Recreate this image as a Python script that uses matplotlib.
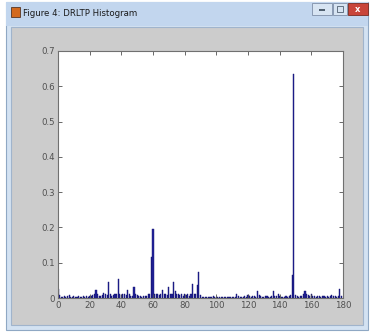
import numpy as np
import matplotlib
matplotlib.use('Agg')
import matplotlib.pyplot as plt
from matplotlib.patches import Rectangle

# Histogram values (one per bin, bins 0..179)
bins = np.arange(180)
hist_vals = [
    0.025, 0.008, 0.004, 0.003, 0.005, 0.004, 0.006, 0.008, 0.003, 0.004,
    0.005, 0.003, 0.004, 0.007, 0.004, 0.003, 0.005, 0.004, 0.006, 0.004,
    0.005, 0.006, 0.008, 0.010, 0.022, 0.012, 0.006, 0.005, 0.008, 0.015,
    0.012, 0.008, 0.045, 0.010, 0.006, 0.008, 0.012, 0.010, 0.055, 0.012,
    0.008, 0.010, 0.012, 0.008, 0.022, 0.010, 0.006, 0.005, 0.032, 0.012,
    0.008, 0.006, 0.005, 0.004, 0.006, 0.005, 0.006, 0.010, 0.012, 0.115,
    0.195, 0.012, 0.010, 0.012, 0.008, 0.010, 0.022, 0.012, 0.010, 0.008,
    0.030, 0.010, 0.012, 0.045, 0.020, 0.012, 0.010, 0.008, 0.010, 0.006,
    0.012, 0.008, 0.010, 0.006, 0.012, 0.040, 0.010, 0.012, 0.038, 0.075,
    0.008, 0.004, 0.003, 0.002, 0.004, 0.003, 0.002, 0.003, 0.006, 0.003,
    0.002, 0.003, 0.002, 0.004, 0.003, 0.002, 0.003, 0.002, 0.004, 0.003,
    0.003, 0.004, 0.003, 0.012, 0.006, 0.003, 0.004, 0.003, 0.006, 0.004,
    0.008, 0.005, 0.004, 0.006, 0.005, 0.004, 0.020, 0.008, 0.005, 0.004,
    0.004, 0.005, 0.006, 0.004, 0.003, 0.005, 0.020, 0.006, 0.005, 0.012,
    0.006, 0.004, 0.003, 0.004, 0.005, 0.004, 0.006, 0.008, 0.065, 0.635,
    0.008, 0.006, 0.004, 0.005, 0.006, 0.012, 0.020, 0.010, 0.008, 0.006,
    0.010, 0.006, 0.005, 0.004, 0.006, 0.005, 0.004, 0.005, 0.006, 0.004,
    0.005, 0.004, 0.006, 0.008, 0.006, 0.005, 0.004, 0.006, 0.025, 0.005,
]
xticks = [0, 20, 40, 60, 80, 100, 120, 140, 160, 180]
yticks = [0, 0.1, 0.2, 0.3, 0.4, 0.5, 0.6, 0.7]
ytick_labels = ['0', '0.1', '0.2', '0.3', '0.4', '0.5', '0.6', '0.7']
window_title = 'Figure 4: DRLTP Histogram'

W, H = 374, 334
fig = plt.figure(figsize=(W / 100, H / 100), dpi=100)
fig.patch.set_facecolor('white')


def px_rect(x, y, w, h, **kw):
    # rectangle in pixel coords measured from the top-left corner
    r = Rectangle((x / W, 1 - (y + h) / H), w / W, h / H,
                  transform=fig.transFigure, zorder=0, **kw)
    fig.add_artist(r)
    return r


# window frame and title bar
px_rect(6, 2, 362, 328, facecolor='#d3e2f2', edgecolor='#8fa8c4', lw=0.8)
px_rect(6, 2, 362, 24, facecolor='#c2d6ee', edgecolor='none')
px_rect(11, 27, 352, 298, facecolor='#cccccc', edgecolor='#a0b4cc', lw=0.8)

# window icon
px_rect(11, 7, 9, 10, facecolor='#d2691e', edgecolor='#402010', lw=0.5)
fig.text(23 / W, 1 - 13 / H, window_title, fontsize=6.2, color='#1a1a1a',
         va='center', ha='left')

# window buttons
px_rect(312, 3, 20, 12, facecolor='#d7e4f2', edgecolor='#7f8fa8', lw=0.6)
px_rect(319, 9, 6, 1.5, facecolor='#506070', edgecolor='none')
px_rect(333, 3, 14, 12, facecolor='#d7e4f2', edgecolor='#7f8fa8', lw=0.6)
px_rect(337, 6, 6, 6, facecolor='none', edgecolor='#506070', lw=0.6)
px_rect(348, 3, 20, 12, facecolor='#c9453a', edgecolor='#7a2a20', lw=0.6)
fig.text(358 / W, 1 - 9 / H, 'x', fontsize=6, color='white', ha='center',
         va='center', fontweight='bold')

# axes
ax = fig.add_axes([58 / W, 1 - 298 / H, 285 / W, 247 / H])
ax.set_zorder(5)
ax.set_facecolor('white')
ax.bar(bins, hist_vals, width=0.7, align='center', color='#24249c',
       edgecolor='#10106a', linewidth=0.3)
ax.set_xlim(0, 180)
ax.set_ylim(0, 0.7)
ax.set_xticks(xticks)
ax.set_yticks(yticks)
ax.set_yticklabels(ytick_labels)
ax.tick_params(direction='in', length=3, width=0.6, labelsize=6.2,
               colors='#505050', top=True, right=True, pad=2)
for s in ax.spines.values():
    s.set_color('#707070')
    s.set_linewidth(0.8)

fig.savefig('out.png', dpi=100)
